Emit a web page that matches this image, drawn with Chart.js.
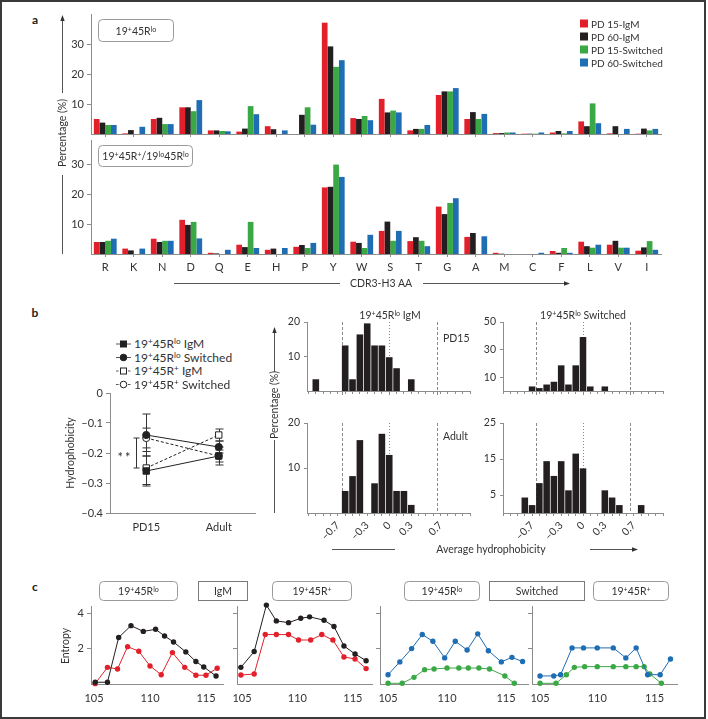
<!DOCTYPE html>
<html>
<head>
<meta charset="utf-8">
<script src="https://cdn.jsdelivr.net/npm/chart.js@4.4.1/dist/chart.umd.min.js"></script>
<style>
  html, body { margin: 0; padding: 0; background: #fff; }
  #fig { position: relative; width: 708px; height: 719px; overflow: hidden; font-family: Lato, "Open Sans", sans-serif; color: #333; }
  #frame { position: absolute; left: 0; top: 0; width: 706px; height: 719px; box-sizing: border-box; border: 2px solid #3a3a3a; }
  canvas { position: absolute; }
  #deco { position: absolute; left: 0; top: 0; }
  .t { position: absolute; white-space: nowrap; font-size: 10.5px; line-height: 1; transform: translate(-50%, -50%); }
  .t.left { transform: translate(0, -50%); }
  .t sup { font-size: 0.68em; vertical-align: 0.45em; line-height: 0; }
  .panel { font-weight: bold; font-size: 12px; color: #222; }
  .lga { font-size: 10px; }
  .lgb { font-size: 12px; }
  .sig { font-size: 13px; letter-spacing: 2px; }
</style>
</head>
<body>
<div id="fig">
  <svg id="deco" width="708" height="719"></svg>
  <div id="frame"></div>
</div>
<script>
// ---------- panel a: CDR3-H3 amino acid usage ----------
const aminoAcids = ['R', 'K', 'N', 'D', 'Q', 'E', 'H', 'P', 'Y', 'W', 'S', 'T', 'G', 'A', 'M', 'C', 'F', 'L', 'V', 'I'];
const groups = ['PD 15-IgM', 'PD 60-IgM', 'PD 15-Switched', 'PD 60-Switched'];
const groupColors = ['#e2202b', '#231f20', '#3aa845', '#1f6db3'];

// 19+45Rlo
const loPd15IgM = [5.0, 0.2, 5.0, 8.9, 1.2, 0.8, 2.6, 0, 37.1, 5.3, 11.7, 1.2, 13.0, 5.0, 0.3, 0.1, 0.5, 4.2, 0.2, 0.1];
const loPd60IgM = [3.8, 1.3, 5.4, 8.9, 1.2, 1.8, 1.6, 6.4, 29.2, 5.0, 7.2, 1.7, 14.2, 7.3, 0.3, 0.1, 1.0, 2.6, 2.6, 1.8];
const loPd15Sw = [3.0, 0, 3.3, 7.6, 1.0, 9.3, 0, 8.9, 22.4, 6.0, 7.8, 1.7, 14.2, 5.0, 0.5, 0.1, 0.2, 10.2, 0, 1.2];
const loPd60Sw = [3.0, 2.4, 3.3, 11.3, 0.9, 6.6, 1.2, 3.1, 24.6, 4.6, 7.2, 3.0, 15.3, 6.7, 0.5, 0.5, 1.0, 3.6, 1.7, 1.7];
// 19+45R+/19lo45Rlo
const hiPd15IgM = [4.0, 1.8, 5.1, 11.4, 0.4, 3.1, 1.4, 2.4, 22.2, 4.1, 7.7, 4.3, 15.8, 5.7, 0.4, 0, 1.0, 4.1, 3.1, 1.1];
const hiPd60IgM = [4.0, 1.2, 4.0, 9.7, 0.2, 2.3, 1.8, 3.0, 22.4, 3.7, 10.8, 5.6, 13.3, 7.0, 0.1, 0, 0.4, 2.6, 4.4, 2.2];
const hiPd15Sw = [4.4, 0, 4.4, 10.7, 0, 10.7, 0, 2.0, 29.8, 2.0, 4.4, 4.4, 17.0, 0, 0, 0, 2.0, 2.1, 2.1, 4.3];
const hiPd60Sw = [5.1, 1.8, 4.4, 5.2, 1.4, 2.0, 2.0, 3.7, 25.7, 6.4, 7.7, 2.6, 18.6, 5.9, 0, 0.4, 0.4, 3.1, 2.1, 1.4];
const pctTicks = [10, 20, 30];

// ---------- panel b: mean hydrophobicity ----------
const ages = ['PD15', 'Adult'];
const hydroNames = ['19<sup>+</sup>45R<sup>lo</sup> IgM', '19<sup>+</sup>45R<sup>lo</sup> Switched',
                    '19<sup>+</sup>45R<sup>+</sup> IgM', '19<sup>+</sup>45R<sup>+</sup> Switched'];
const hydroLoIgM = [-0.26, -0.21];
const hydroLoSw = [-0.14, -0.18];
const hydroHiIgM = [-0.25, -0.14];
const hydroHiSw = [-0.15, -0.21];
const semLoIgM = [0.05, 0.03];
const semLoSw = [0.07, 0.02];
const semHiIgM = [0.055, 0.02];
const semHiSw = [0.033, 0.02];
const hydroTicks = [0, -0.1, -0.2, -0.3, -0.4];
const sigSpan = [-0.15, -0.25];

// histograms of average hydrophobicity (percentage per bin)
const bins = [-1.1, -1.0, -0.9, -0.8, -0.7, -0.6, -0.5, -0.4, -0.3, -0.2, -0.1, 0, 0.1, 0.2, 0.3, 0.4, 0.5, 0.6, 0.7, 0.8, 0.9, 1.0, 1.1];
const histIgmPd15 = [0, 3.4, 0, 0, 0, 13.2, 3.4, 16.4, 19.6, 13.2, 13.2, 9.8, 6.6, 0, 3.4, 0, 0, 0, 0, 0, 0, 0, 0];
const histIgmAdult = [0, 0, 0, 0, 0, 4.9, 8.2, 16.2, 0, 6.6, 17.6, 12.9, 4.9, 4.9, 1.8, 0, 0, 0, 0, 0, 0, 0, 0];
const histSwPd15 = [0, 0, 0, 0, 3.3, 2.1, 4.7, 6.7, 18.6, 4.7, 18.6, 39.1, 3.3, 0, 3.3, 0, 0, 0, 0, 0, 0, 0, 0];
const histSwAdult = [0, 0, 0, 4.3, 2.2, 8.3, 14.4, 10.3, 14.4, 6.3, 16.5, 12.4, 0, 0, 6.3, 4.3, 2.2, 0, 0, 2.2, 0, 0, 0];
const hydroLabels = [-0.7, -0.3, 0, 0.3, 0.7];
const cutoffs = [-0.65, 0.65];

// ---------- panel c: entropy by position ----------
const posTicks = [105, 110, 115];
const entTicks = [2, 4];
const igmLoX = [105.1, 106.2, 107.1, 108.0, 109.0, 110.0, 111.0, 112.0, 113.1, 114.1, 115.0, 116.0];
const igmLoPd15 = [0.02, 0.95, 0.86, 2.13, 1.87, 1.03, 0.53, 1.79, 0.95, 0.5, 0.5, 0.9];
const igmLoAdultX = [105.1, 106.2, 107.2, 108.3, 109.4, 110.5, 111.3, 112.1, 113.2, 114.1, 114.8, 115.9];
const igmLoAdult = [0.1, 0.1, 2.65, 3.33, 3.0, 3.12, 2.74, 2.4, 1.83, 1.28, 0.97, 0.46];
const igmHiPd15X = [104.9, 106.1, 107.1, 108.1, 109.2, 110.1, 111.2, 112.2, 113.2, 114.2, 115.2, 116.2];
const igmHiPd15 = [0.51, 0.57, 2.82, 2.82, 2.82, 2.51, 2.51, 2.82, 2.51, 1.54, 1.43, 0.88];
const igmHiAdultX = [104.9, 106.1, 107.2, 108.1, 109.2, 110.3, 111.1, 112.4, 113.3, 114.2, 115.2, 116.2];
const igmHiAdult = [0.95, 1.85, 4.5, 3.6, 3.5, 3.75, 3.83, 3.64, 3.28, 2.17, 1.71, 1.33];
const swLoPd15X = [105, 106.2, 107.2, 108.1, 108.9, 110.0, 111.0, 111.8, 112.7, 113.6, 114.9, 115.7];
const swLoPd15 = [0.04, 0.04, 0.38, 0.82, 0.86, 0.91, 0.91, 0.91, 0.91, 0.86, 0.46, 0.04];
const swLoAdultX = [105, 106, 107, 107.9, 108.8, 109.8, 110.7, 111.7, 112.6, 113.5, 114.6, 115.5, 116.4];
const swLoAdult = [0.53, 1.26, 2.02, 2.82, 2.44, 1.49, 2.44, 1.94, 2.86, 1.9, 1.26, 1.52, 1.28];
const swHiPd15X = [105, 106.4, 107.3, 108.0, 108.9, 110.0, 111.4, 112.5, 113.4, 114.1, 114.6, 115.6];
const swHiPd15 = [0.04, 0.04, 0.53, 0.95, 0.99, 0.99, 0.99, 0.99, 0.99, 0.99, 0.57, 0.04];
const swHiAdultX = [105, 106.2, 106.8, 107.8, 108.8, 110.0, 111.4, 112.5, 113.4, 114.4, 115.5, 116.4];
const swHiAdult = [0.46, 0.46, 0.53, 2.06, 2.06, 2.06, 2.06, 1.49, 2.06, 0.53, 0.53, 1.43];

// ---------- setup ----------
const AXIS = '#8c8c8c';
const fig = document.getElementById('fig');
const frameEl = document.getElementById('frame');
Chart.defaults.font.family = 'Lato, "Open Sans", sans-serif';
Chart.defaults.font.size = 10.5;
Chart.defaults.color = '#333';
Chart.defaults.animation = false;
Chart.defaults.responsive = false;
Chart.defaults.plugins.legend.display = false;
Chart.defaults.plugins.tooltip.enabled = false;

const fmtDash = v => Math.abs(v) < 1e-9 ? '0' : (v < 0 ? '\u2013' : '') + Math.abs(v).toFixed(1);

// canvas placed so the chart area lands on the given page rectangle
function frame(area, o) {
  const pt = o.pt ?? 12, pr = o.pr ?? 12, pb = o.pb ?? 2;
  const box = { x: area.l - o.yW, y: area.t - pt, w: o.yW + area.r - area.l + pr, h: pt + area.b - area.t + o.xH + pb };
  const c = document.createElement('canvas');
  c.width = box.w; c.height = box.h;
  Object.assign(c.style, { left: box.x + 'px', top: box.y + 'px', width: box.w + 'px', height: box.h + 'px' });
  fig.insertBefore(c, frameEl);
  return { ctx: c, padding: { left: 0, top: pt, right: pr, bottom: pb }, yW: o.yW, xH: o.xH };
}

const refLines = {
  id: 'refLines',
  beforeDatasetsDraw(chart, args, opts) {
    const { ctx, chartArea: a } = chart;
    const x = chart.scales.x;
    ctx.save();
    ctx.strokeStyle = '#8a8a8a';
    ctx.lineWidth = 1;
    cutoffs.forEach(v => draw(v, [3, 2]));
    draw(0, [1, 2]);
    function draw(v, dash) {
      const px = Math.round(x.getPixelForValue(v)) + 0.5;
      ctx.setLineDash(dash);
      ctx.beginPath();
      ctx.moveTo(px, a.top);
      ctx.lineTo(px, a.bottom + (opts.extend || 0));
      ctx.stroke();
    }
    ctx.restore();
  }
};

const errorBars = {
  id: 'errorBars',
  beforeDatasetsDraw(chart) {
    const { ctx } = chart;
    const y = chart.scales.y, x = chart.scales.x;
    ctx.save();
    ctx.strokeStyle = '#333';
    ctx.lineWidth = 1;
    chart.data.datasets.forEach((ds, i) => {
      chart.getDatasetMeta(i).data.forEach((pt, j) => {
        const top = y.getPixelForValue(ds.data[j] + ds.err[j]);
        const bot = y.getPixelForValue(ds.data[j] - ds.err[j]);
        const px = Math.round(pt.x) + 0.5;
        ctx.beginPath();
        ctx.moveTo(px, top); ctx.lineTo(px, bot);
        ctx.moveTo(px - 4, top); ctx.lineTo(px + 4, top);
        ctx.moveTo(px - 4, bot); ctx.lineTo(px + 4, bot);
        ctx.stroke();
      });
    });
    // significance bracket at PD15
    const bx = Math.round(x.getPixelForValue(0)) - 9.5;
    const y1 = y.getPixelForValue(sigSpan[0]), y2 = y.getPixelForValue(sigSpan[1]);
    ctx.beginPath();
    ctx.moveTo(bx, y1); ctx.lineTo(bx, y2);
    ctx.moveTo(bx - 3, y1); ctx.lineTo(bx + 3, y1);
    ctx.moveTo(bx - 3, y2); ctx.lineTo(bx + 3, y2);
    ctx.stroke();
    ctx.restore();
  }
};

// ---------- panel a charts ----------
function aaChart(area, series, showLetters, yMax) {
  const f = frame(area, { yW: 40, xH: showLetters ? 22 : 9 });
  return new Chart(f.ctx, {
    type: 'bar',
    data: {
      labels: aminoAcids,
      datasets: series.map((d, i) => ({ label: groups[i], data: d, backgroundColor: groupColors[i], borderWidth: 0 }))
    },
    options: {
      layout: { padding: f.padding },
      datasets: { bar: { barPercentage: 1, categoryPercentage: 0.8 } },
      scales: {
        x: {
          grid: { offset: false, drawOnChartArea: false, tickLength: 3, color: AXIS },
          border: { color: AXIS },
          ticks: { display: showLetters, font: { size: 11 }, padding: 4, maxRotation: 0, autoSkip: false },
          afterFit: s => { s.height = f.xH; }
        },
        y: {
          min: 0, max: yMax,
          grid: { drawOnChartArea: false, tickLength: 4, color: AXIS },
          border: { color: AXIS },
          ticks: { padding: 3, font: { size: 11 } },
          afterBuildTicks: s => { s.ticks = pctTicks.map(v => ({ value: v })); },
          afterFit: s => { s.width = f.yW; }
        }
      }
    }
  });
}
aaChart({ l: 91, t: 14, r: 661, b: 134 }, [loPd15IgM, loPd60IgM, loPd15Sw, loPd60Sw], false, 40);
aaChart({ l: 91, t: 140, r: 661, b: 254 }, [hiPd15IgM, hiPd60IgM, hiPd15Sw, hiPd60Sw], true, 38);

// ---------- panel b: line chart ----------
(function () {
  const f = frame({ l: 110, t: 393, r: 255, b: 513 }, { yW: 60, xH: 22, pr: 10 });
  const base = { borderColor: '#222', borderWidth: 1, pointBorderColor: '#222', pointBorderWidth: 1 };
  new Chart(f.ctx, {
    type: 'line',
    data: {
      labels: ages,
      datasets: [
        { ...base, data: hydroLoIgM, err: semLoIgM, pointStyle: 'rect', pointRadius: 4.5, pointBackgroundColor: '#222' },
        { ...base, data: hydroLoSw, err: semLoSw, pointStyle: 'circle', pointRadius: 3.6, pointBackgroundColor: '#222' },
        { ...base, data: hydroHiIgM, err: semHiIgM, borderDash: [3, 2], pointStyle: 'rect', pointRadius: 4.5, pointBackgroundColor: '#fff' },
        { ...base, data: hydroHiSw, err: semHiSw, borderDash: [3, 2], pointStyle: 'circle', pointRadius: 3.6, pointBackgroundColor: '#fff' }
      ]
    },
    plugins: [errorBars],
    options: {
      layout: { padding: f.padding },
      scales: {
        x: {
          offset: true,
          grid: { drawOnChartArea: false, drawTicks: false },
          border: { color: AXIS },
          ticks: { padding: 8, font: { size: 11 } },
          afterFit: s => { s.height = f.xH; }
        },
        y: {
          min: -0.4, max: 0,
          grid: { drawOnChartArea: false, tickLength: 4, color: AXIS },
          border: { color: AXIS },
          ticks: { padding: 3, callback: fmtDash, font: { size: 11 } },
          afterBuildTicks: s => { s.ticks = hydroTicks.map(v => ({ value: v })); },
          afterFit: s => { s.width = f.yW; }
        }
      }
    }
  });
})();

// ---------- panel b: histograms ----------
function histChart(area, xr, vals, yMax, yTicks, showX) {
  const f = frame(area, { yW: 34, xH: showX ? 30 : 4, pb: showX ? 2 : 8 });
  const edges = bins.slice(1).map((b, i) => (b + bins[i]) / 2);
  return new Chart(f.ctx, {
    type: 'bar',
    data: { datasets: [{ data: bins.map((b, i) => ({ x: b, y: vals[i] })), backgroundColor: '#231f20', barPercentage: 0.9, categoryPercentage: 1 }] },
    plugins: [refLines],
    options: {
      layout: { padding: f.padding },
      plugins: { refLines: { extend: showX ? 0 : 6 } },
      scales: {
        x: {
          type: 'linear', min: xr[0], max: xr[1], offset: false, position: 'bottom', weight: 0,
          grid: { drawOnChartArea: false, tickLength: 3, color: AXIS },
          border: { color: AXIS },
          ticks: { display: false },
          afterBuildTicks: s => { s.ticks = edges.map(v => ({ value: v })); },
          afterFit: s => { s.height = 4; }
        },
        xl: {
          type: 'linear', min: xr[0], max: xr[1], offset: false, position: 'bottom', weight: 1, display: showX,
          grid: { drawOnChartArea: false, drawTicks: false },
          border: { display: false },
          ticks: { minRotation: 45, maxRotation: 45, padding: 2, callback: fmtDash, font: { size: 10.5 } },
          afterBuildTicks: s => { s.ticks = hydroLabels.map(v => ({ value: v })); },
          afterFit: s => { s.height = 26; }
        },
        y: {
          min: 0, max: yMax,
          grid: { drawOnChartArea: false, tickLength: 3, color: AXIS },
          border: { color: AXIS },
          ticks: { padding: 4, font: { size: 10.5 } },
          afterBuildTicks: s => { s.ticks = yTicks.map(v => ({ value: v })); },
          afterFit: s => { s.width = f.yW; }
        }
      }
    }
  });
}
histChart({ l: 307, t: 322, r: 470, b: 417 }, [-1.12, 1.10], histIgmPd15, 20, [10, 20], false);
histChart({ l: 307, t: 423, r: 470, b: 513 }, [-1.12, 1.10], histIgmAdult, 20, [10, 20], true);
histChart({ l: 503, t: 322, r: 663, b: 417 }, [-1.10, 1.10], histSwPd15, 50, [10, 30, 50], false);
histChart({ l: 503, t: 423, r: 663, b: 513 }, [-1.10, 1.10], histSwAdult, 25, [5, 15, 25], true);

// ---------- panel c: entropy ----------
function entropyChart(area, xr, series, showY) {
  const f = frame(area, { yW: 40, xH: 24, pt: 10 });
  return new Chart(f.ctx, {
    type: 'line',
    data: {
      datasets: series.map(s => ({
        data: s.x.map((v, i) => ({ x: v, y: s.y[i] })),
        borderColor: s.color, backgroundColor: s.color, pointBackgroundColor: s.color,
        borderWidth: 1, pointRadius: 2.7, pointBorderWidth: 0, clip: false
      }))
    },
    options: {
      layout: { padding: f.padding },
      scales: {
        x: {
          type: 'linear', min: xr[0], max: xr[1],
          grid: { drawOnChartArea: false, drawTicks: false },
          border: { color: AXIS },
          ticks: { padding: 8, font: { size: 11 } },
          afterBuildTicks: s => { s.ticks = posTicks.map(v => ({ value: v })); },
          afterFit: s => { s.height = f.xH; }
        },
        y: {
          min: 0, max: 4.45,
          grid: { drawOnChartArea: false, tickLength: 4, color: AXIS },
          border: { color: AXIS },
          ticks: { display: showY, padding: 3, font: { size: 11 } },
          afterBuildTicks: s => { s.ticks = entTicks.map(v => ({ value: v })); },
          afterFit: s => { s.width = f.yW; }
        }
      }
    }
  });
}
entropyChart({ l: 91, t: 606, r: 223, b: 684 }, [104.73, 116.52],
  [{ x: igmLoAdultX, y: igmLoAdult, color: groupColors[1] }, { x: igmLoX, y: igmLoPd15, color: groupColors[0] }], true);
entropyChart({ l: 237, t: 606, r: 372, b: 684 }, [104.55, 116.73],
  [{ x: igmHiAdultX, y: igmHiAdult, color: groupColors[1] }, { x: igmHiPd15X, y: igmHiPd15, color: groupColors[0] }], false);
entropyChart({ l: 380, t: 606, r: 528, b: 684 }, [104.32, 116.86],
  [{ x: swLoAdultX, y: swLoAdult, color: groupColors[3] }, { x: swLoPd15X, y: swLoPd15, color: groupColors[2] }], false);
entropyChart({ l: 532, t: 606, r: 677, b: 684 }, [104.3, 116.97],
  [{ x: swHiAdultX, y: swHiAdult, color: groupColors[3] }, { x: swHiPd15X, y: swHiPd15, color: groupColors[2] }], false);

// ---------- text and decorations ----------
function text(html, x, y, cls, rot) {
  const d = document.createElement('div');
  d.className = 't' + (cls ? ' ' + cls : '');
  d.innerHTML = html;
  d.style.left = x + 'px';
  d.style.top = y + 'px';
  if (rot) d.style.transform = 'translate(-50%, -50%) rotate(' + rot + 'deg)';
  fig.insertBefore(d, frameEl);
  return d;
}
let svg = '';
const line = (x1, y1, x2, y2, extra) => { svg += `<line x1="${x1}" y1="${y1}" x2="${x2}" y2="${y2}" stroke="#555" stroke-width="1" ${extra || ''}/>`; };
const upArrow = (x, y1, y2) => { line(x, y1, x, y2 + 5); svg += `<polygon points="${x},${y2} ${x - 2.2},${y2 + 6} ${x + 2.2},${y2 + 6}" fill="#333"/>`; };
const rightArrow = (x1, x2, y) => { line(x1, y, x2 - 5, y); svg += `<polygon points="${x2},${y} ${x2 - 6},${y - 2.2} ${x2 - 6},${y + 2.2}" fill="#333"/>`; };
const box = (x, y, w, h, rx, stroke) => { svg += `<rect x="${x}" y="${y}" width="${w}" height="${h}" rx="${rx}" fill="none" stroke="${stroke}" stroke-width="1"/>`; };
const lo = '19<sup>+</sup>45R<sup>lo</sup>';
const hi = '19<sup>+</sup>45R<sup>+</sup>';

// panel a
text('a', 35, 20, 'panel');
box(98.5, 19.5, 75, 22, 4, '#9a9a9a');
text(lo, 136, 30.5);
box(98.5, 145.5, 94, 21, 4, '#9a9a9a');
text(hi + '/19<sup>lo</sup>45R<sup>lo</sup>', 145.5, 156);
upArrow(62.5, 93, 15);
line(62.5, 175, 62.5, 254);
text('Percentage (%)', 62, 133, '', -90);
line(174, 283.5, 340, 283.5);
text('CDR3-H3 AA', 381, 283);
rightArrow(423, 570, 283.5);
groups.forEach((g, i) => {
  const cy = 23.5 + i * 13;
  svg += `<rect x="580" y="${cy - 4}" width="8" height="8" fill="${groupColors[i]}"/>`;
  text(g, 591, cy, 'left lga');
});

// panel b
text('b', 35, 313, 'panel');
hydroNames.forEach((n, i) => {
  const cy = 344 + i * 13.5;
  const dash = i >= 2 ? 'stroke-dasharray="2.5,1.5"' : '';
  line(116, cy, 131, cy, dash);
  const fill = i < 2 ? '#222' : '#fff';
  if (i % 2 === 0) svg += `<rect x="120.5" y="${cy - 3}" width="6" height="6" fill="${fill}" stroke="#222"/>`;
  else svg += `<circle cx="123.5" cy="${cy}" r="3.3" fill="${fill}" stroke="#222"/>`;
  text(n, 134, cy, 'left lgb');
});
text('Hydrophobicity', 70, 453, '', -90);
text('**', 125, 457, 'sig');
text(lo + ' IgM', 390, 315);
text(lo + ' Switched', 583, 315);
text('PD15', 443, 338, 'left');
text('Adult', 443, 436, 'left');
upArrow(274.5, 372, 327);
line(274.5, 440, 274.5, 513);
text('Percentage (%)', 274, 405, '', -90);
line(332, 549.5, 395, 549.5);
text('Average hydrophobicity', 491, 549);
rightArrow(590, 638, 549.5);

// panel c
text('c', 35, 587, 'panel');
box(99.5, 581.5, 78, 19, 4, '#9a9a9a');  text(lo, 138.5, 591);
box(198.5, 581.5, 49, 19, 0, '#7a7a7a'); text('IgM', 223, 591);
box(272.5, 581.5, 79, 19, 4, '#9a9a9a'); text(hi, 312, 591);
box(404.5, 581.5, 75, 19, 4, '#9a9a9a'); text(lo, 442, 591);
box(489.5, 581.5, 95, 19, 0, '#7a7a7a'); text('Switched', 537, 591);
box(593.5, 581.5, 75, 19, 4, '#9a9a9a'); text(hi, 631, 591);
text('Entropy', 65, 646, '', -90);

document.getElementById('deco').innerHTML = svg;
</script>
</body>
</html>
